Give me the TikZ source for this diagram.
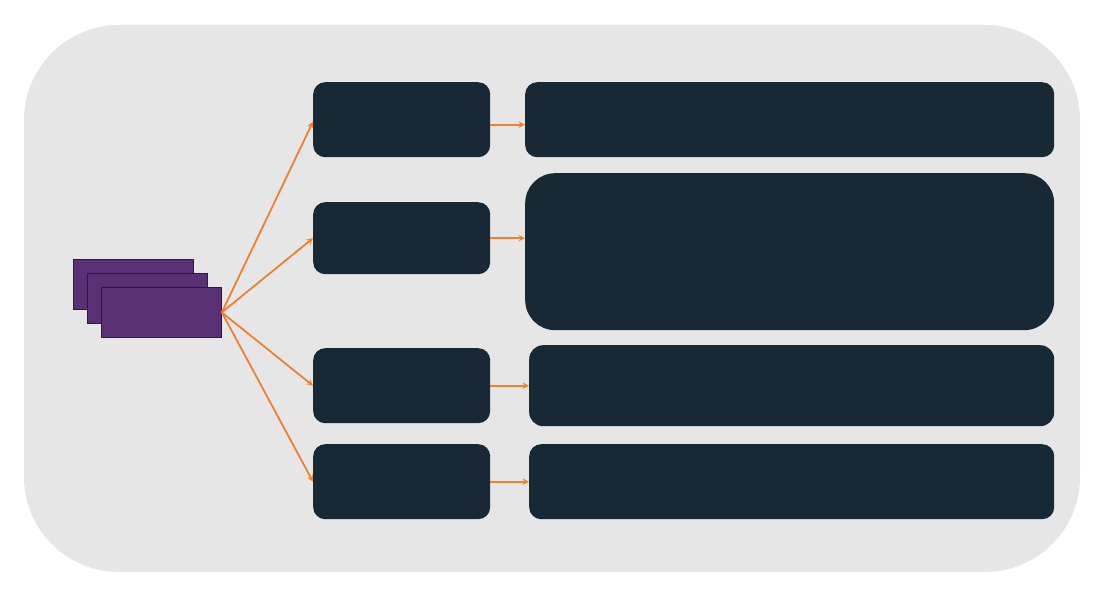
\documentclass[tikz,border=0pt]{standalone}
\usetikzlibrary{calc, positioning}
\definecolor{panelgray}{HTML}{E6E6E6}
\definecolor{darkbox}{HTML}{162935}
\definecolor{stackpurple}{HTML}{5A3075}
\definecolor{stackline}{HTML}{1E2235}
\definecolor{flow}{HTML}{F07F2F}
\begin{document}
\begin{tikzpicture}[
          x=1pt, y=-1pt,
          panel/.style={fill=panelgray, draw=none, rounded corners=95pt},
          card/.style={rectangle, fill=stackpurple, draw=stackline, line width=0.8pt, minimum width=120pt, minimum height=50pt, inner sep=0pt, anchor=north west},
          stage/.style={rectangle, fill=darkbox, draw=none, rounded corners=12pt, minimum width=177pt, inner sep=0pt, anchor=north west},
          detail/.style={rectangle, fill=darkbox, draw=none, rounded corners=12pt, inner sep=0pt, anchor=north west},
          arrow/.style={->, >=stealth, line width=1.8pt, draw=flow}
        ]
          \useasboundingbox (0,0) rectangle (1098,596);
          \fill[panel] (24,25) rectangle (1080,572);

          % stacked inputs
          \node[card] (card1) at (73,259) {};
          \node[card] (card2) at (87,273) {};
          \node[card] (card3) at (101,287) {};
          \coordinate (src) at (card3.east);

          % stages
          \node[stage, minimum height=75pt] (stageA) at (313,82) {};
          \node[stage, minimum height=72pt] (stageB) at (313,202) {};
          \node[stage, minimum height=75pt] (stageC) at (313,348) {};
          \node[stage, minimum height=75pt] (stageD) at (313,444) {};

          % details
          \node[detail, minimum width=529pt, minimum height=75pt] (detailA) at (525,82) {};
          \node[detail, minimum width=529pt, minimum height=157pt, rounded corners=30pt] (detailB) at (525,173) {};
          \node[detail, minimum width=525pt, minimum height=81pt, rounded corners=14pt] (detailC) at (529,345) {};
          \node[detail, minimum width=525pt, minimum height=75pt] (detailD) at (529,444) {};

          \draw[arrow] (src) -- ($(stageA.west)+(0,2)$);
          \draw[arrow] (src) -- (stageB.west);
          \draw[arrow] (src) -- (stageC.west);
          \draw[arrow] (src) -- (stageD.west);

          \draw[arrow] ($(stageA.east)+(0,5)$) -- ($(detailA.west)+(0,5)$);
          \draw[arrow] (stageB.east) -- (stageB.east -| detailB.west);
          \draw[arrow] (stageC.east) -- (stageC.east -| detailC.west);
          \draw[arrow] (stageD.east) -- (stageD.east -| detailD.west);
        \end{tikzpicture}
\end{document}
